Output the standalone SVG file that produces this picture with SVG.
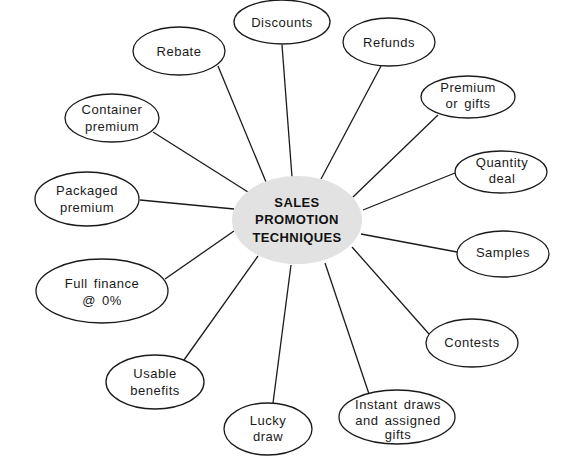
<svg xmlns="http://www.w3.org/2000/svg" width="564" height="462" viewBox="0 0 564 462">
<style>
.n ellipse{fill:#fff;stroke:#1a1a1a;stroke-width:1.3}
.n text{font-family:"Liberation Sans",Arial,sans-serif;font-size:13px;letter-spacing:0.5px;word-spacing:2px;fill:#1a1a1a;text-anchor:middle}
.c line{stroke:#1a1a1a;stroke-width:1.3}
#center ellipse{fill:#e2e2e2;stroke:none}
#center text{font-family:"Liberation Sans",Arial,sans-serif;font-size:13px;font-weight:bold;letter-spacing:0.4px;fill:#111;text-anchor:middle}
</style>
<rect width="564" height="462" fill="#fff"/>
<g class="c" id="connectors">
<line x1="282" y1="45" x2="292" y2="177"/>
<line x1="218" y1="66" x2="266" y2="182"/>
<line x1="153" y1="132" x2="248" y2="192"/>
<line x1="140" y1="200" x2="234" y2="209"/>
<line x1="381" y1="66" x2="321" y2="179"/>
<line x1="438" y1="115" x2="353" y2="197"/>
<line x1="455" y1="173" x2="363" y2="210"/>
<line x1="361" y1="234" x2="457" y2="252"/>
<line x1="352" y1="247" x2="429" y2="334"/>
<line x1="325" y1="263" x2="369" y2="394"/>
<line x1="291" y1="265" x2="273" y2="403"/>
<line x1="258" y1="256" x2="184" y2="360"/>
<line x1="234" y1="231" x2="165" y2="279"/>
</g>
<g id="center">
<ellipse cx="297" cy="220" rx="65" ry="44"/>
<text x="297" y="207">SALES</text>
<text x="297" y="224">PROMOTION</text>
<text x="297" y="242">TECHNIQUES</text>
</g>
<g class="n" id="discounts"><ellipse cx="282" cy="22" rx="48" ry="22"/><text x="282" y="27">Discounts</text></g>
<g class="n" id="rebate"><ellipse cx="179" cy="51" rx="46" ry="24"/><text x="179" y="56">Rebate</text></g>
<g class="n" id="container"><ellipse cx="112" cy="118" rx="47" ry="24"/><text x="112" y="114">Container</text><text x="112" y="131">premium</text></g>
<g class="n" id="packaged"><ellipse cx="87" cy="199" rx="52" ry="27"/><text x="87" y="195">Packaged</text><text x="87" y="212">premium</text></g>
<g class="n" id="refunds"><ellipse cx="389" cy="42" rx="46" ry="24"/><text x="389" y="47">Refunds</text></g>
<g class="n" id="premium"><ellipse cx="468" cy="97" rx="47" ry="21"/><text x="468" y="92">Premium</text><text x="468" y="108">or gifts</text></g>
<g class="n" id="quantity"><ellipse cx="501" cy="172" rx="46" ry="21"/><text x="502" y="167">Quantity</text><text x="502" y="183">deal</text></g>
<g class="n" id="samples"><ellipse cx="503" cy="254" rx="46" ry="23"/><text x="503" y="257">Samples</text></g>
<g class="n" id="contests"><ellipse cx="472" cy="343" rx="46" ry="24"/><text x="472" y="347">Contests</text></g>
<g class="n" id="instant"><ellipse cx="397" cy="417" rx="58" ry="27"/><text x="398" y="409">Instant draws</text><text x="398" y="425">and assigned</text><text x="398" y="439">gifts</text></g>
<g class="n" id="lucky"><ellipse cx="268" cy="429" rx="44" ry="26"/><text x="268" y="425">Lucky</text><text x="268" y="441">draw</text></g>
<g class="n" id="usable"><ellipse cx="155" cy="382" rx="49" ry="27"/><text x="155" y="378">Usable</text><text x="155" y="395">benefits</text></g>
<g class="n" id="finance"><ellipse cx="102" cy="291" rx="66" ry="32"/><text x="102" y="288">Full finance</text><text x="102" y="305">@ 0%</text></g>
</svg>
